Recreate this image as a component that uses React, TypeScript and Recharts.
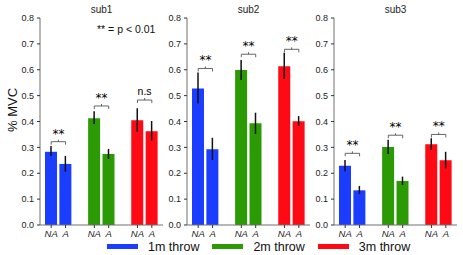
import React from 'react';
import { BarChart, Bar, XAxis, YAxis, ErrorBar, Cell, ReferenceLine } from 'recharts';

// slot order on the x axis; the gap slots keep the three throw groups apart
const slots = ['NA1', 'A1', 'gap1', 'NA2', 'A2', 'gap2', 'NA3', 'A3'];
const throwNames = ['1m throw', '2m throw', '3m throw'];
const throwColors = ['#1a3dff', '#2b9a05', '#ff0a14'];
const yTicks = [0, 0.1, 0.2, 0.3, 0.4, 0.5, 0.6, 0.7, 0.8];

// per subject, order: 1m NA, 1m A, 2m NA, 2m A, 3m NA, 3m A
const sub1Mean = [0.283, 0.236, 0.413, 0.274, 0.405, 0.362];
const sub1Low = [0.267, 0.206, 0.39, 0.255, 0.36, 0.326];
const sub1High = [0.305, 0.267, 0.44, 0.294, 0.451, 0.402];
const sub1Bracket = [0.322, 0.46, 0.483];
const sub1Marks = ['**', '**', 'n.s'];

const sub2Mean = [0.528, 0.293, 0.599, 0.393, 0.614, 0.401];
const sub2Low = [0.47, 0.251, 0.56, 0.352, 0.564, 0.383];
const sub2High = [0.589, 0.337, 0.638, 0.434, 0.666, 0.421];
const sub2Bracket = [0.605, 0.66, 0.679];
const sub2Marks = ['**', '**', '**'];

const sub3Mean = [0.229, 0.134, 0.301, 0.17, 0.312, 0.25];
const sub3Low = [0.207, 0.12, 0.274, 0.155, 0.29, 0.219];
const sub3High = [0.251, 0.151, 0.329, 0.187, 0.335, 0.283];
const sub3Bracket = [0.277, 0.347, 0.35];
const sub3Marks = ['**', '**', '**'];

const FONT = '"Liberation Sans", Arial, sans-serif';
const FRAME = '#707070';

function buildRows(mean: number[], low: number[], high: number[]) {
  let k = 0;
  return slots.map((slot) => {
    if (slot.startsWith('gap')) return { slot, value: 0, err: [0, 0], color: '#fff' };
    const i = k++;
    return {
      slot,
      value: mean[i],
      err: [mean[i] - low[i], high[i] - mean[i]],
      color: throwColors[Math.floor(i / 2)],
    };
  });
}

const SlotTick = ({ x, y, payload }: any) => {
  const s: string = payload.value;
  if (s.startsWith('gap')) return null;
  return (
    <g>
      <line x1={x} x2={x} y1={y - 5} y2={y - 2} stroke="#333" />
      <text x={x} y={y} dy="0.75em" textAnchor="middle" fontSize={9.5} fontStyle="italic" fill="#222" fontFamily={FONT}>
        {s.replace(/\d/, '')}
      </text>
    </g>
  );
};

const Bracket = ({ x1, y1, x2, mark }: any) => {
  const xm = (x1 + x2) / 2;
  const stars = mark !== 'n.s';
  return (
    <g>
      <path d={`M${x1},${y1 + 3}V${y1}H${x2}V${y1 + 3}M${xm},${y1}V${y1 - 2}`} stroke="#555" fill="none" strokeWidth={0.9} />
      <text
        x={xm}
        y={stars ? y1 - 4 : y1 - 5}
        textAnchor="middle"
        fontSize={stars ? 12 : 10.5}
        fill="#000"
        stroke="none"
        fontFamily={stars ? '"DejaVu Sans", sans-serif' : FONT}
      >
        {mark}
      </text>
    </g>
  );
};

const PLOT_W = 123;
const AXIS_W = 30;

function Panel({ left, title, mean, low, high, bracket, marks }: any) {
  const rows = buildRows(mean, low, high);
  const pairs = [['NA1', 'A1'], ['NA2', 'A2'], ['NA3', 'A3']];
  return (
    <div style={{ position: 'absolute', left, top: 0 }}>
      <div style={{ position: 'absolute', left: AXIS_W, width: PLOT_W, top: 4, textAlign: 'center', fontSize: 10, fontFamily: FONT, color: '#222' }}>
        {title}
      </div>
      <BarChart width={AXIS_W + PLOT_W + 1} height={240} data={rows} margin={{ top: 18, right: 1, left: 0, bottom: 0 }}>
        <XAxis
          dataKey="slot"
          interval={0}
          height={15}
          padding={{ left: 4, right: 4 }}
          tickSize={3}
          tickMargin={2}
          tickLine={false}
          tick={<SlotTick />}
          axisLine={{ stroke: FRAME }}
        />
        <XAxis xAxisId="top" orientation="top" dataKey="slot" height={0} tick={false} tickLine={false} axisLine={{ stroke: FRAME }} padding={{ left: 4, right: 4 }} />
        <YAxis
          domain={[0, 0.8]}
          ticks={yTicks}
          width={AXIS_W}
          tickSize={3}
          tickMargin={3}
          tickFormatter={(v: number) => v.toFixed(1)}
          tick={{ fontSize: 9, fill: '#222', fontFamily: FONT }}
          tickLine={{ stroke: '#333' }}
          axisLine={{ stroke: FRAME }}
        />
        <YAxis yAxisId="right" orientation="right" domain={[0, 0.8]} width={0} tick={false} tickLine={false} axisLine={{ stroke: FRAME }} />
        <Bar dataKey="value" barSize={12} isAnimationActive={false}>
          {rows.map((r, i) => (
            <Cell key={`c-${i}`} fill={r.color} />
          ))}
          <ErrorBar dataKey="err" width={0} stroke="#111" strokeWidth={1.5} direction="y" isAnimationActive={false} />
        </Bar>
        {pairs.map((p, i) => (
          <ReferenceLine
            key={`b-${i}`}
            segment={[{ x: p[0], y: bracket[i] }, { x: p[1], y: bracket[i] }]}
            shape={(props: any) => <Bracket {...props} mark={marks[i]} />}
          />
        ))}
      </BarChart>
    </div>
  );
}

export default function App() {
  return (
    <div style={{ position: 'fixed', left: 0, top: 0, width: 463, height: 255, background: '#fff', fontFamily: FONT }}>
      <Panel left={40 - AXIS_W} title="sub1" mean={sub1Mean} low={sub1Low} high={sub1High} bracket={sub1Bracket} marks={sub1Marks} />
      <Panel left={187 - AXIS_W} title="sub2" mean={sub2Mean} low={sub2Low} high={sub2High} bracket={sub2Bracket} marks={sub2Marks} />
      <Panel left={334 - AXIS_W} title="sub3" mean={sub3Mean} low={sub3Low} high={sub3High} bracket={sub3Bracket} marks={sub3Marks} />
      <div style={{ position: 'absolute', left: 97, top: 23, fontSize: 10.5, color: '#111', whiteSpace: 'nowrap' }}>** = p &lt; 0.01</div>
      <div
        style={{
          position: 'absolute',
          left: 12,
          top: 110,
          fontSize: 13,
          color: '#111',
          transform: 'translate(-50%, -50%) rotate(-90deg)',
          whiteSpace: 'nowrap',
        }}
      >
        % MVC
      </div>
      <div style={{ position: 'absolute', left: 107, top: 238, display: 'flex', alignItems: 'center', height: 17 }}>
        {throwNames.map((n, i) => (
          <div key={n} style={{ display: 'flex', alignItems: 'center', marginRight: 13 }}>
            <div style={{ width: 31, height: 5, background: throwColors[i], marginRight: 10 }} />
            <span style={{ fontSize: 12.5, color: '#111', whiteSpace: 'nowrap' }}>{n}</span>
          </div>
        ))}
      </div>
    </div>
  );
}
